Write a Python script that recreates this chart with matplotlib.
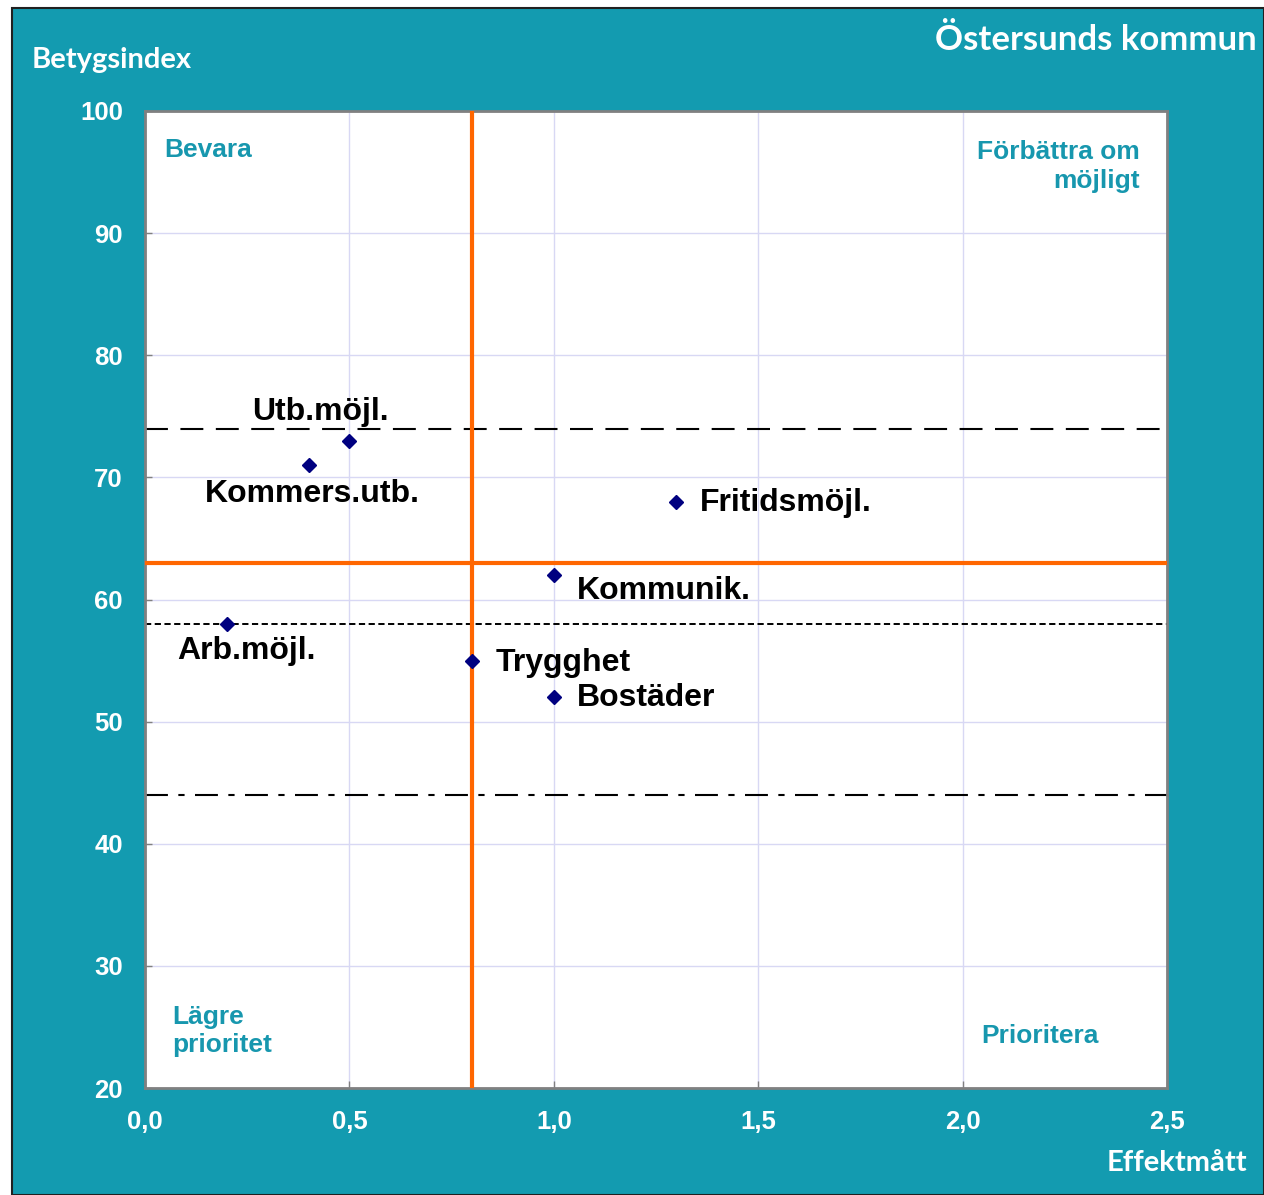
import matplotlib
matplotlib.use("Agg")
import matplotlib.pyplot as plt
from matplotlib.patches import Rectangle

# Data
labels = ['Utb.möjl.', 'Kommers.utb.', 'Fritidsmöjl.', 'Kommunik.', 'Arb.möjl.', 'Trygghet', 'Bostäder']
effekt = [0.5, 0.4, 1.3, 1.0, 0.2, 0.8, 1.0]
betyg = [73, 71, 68, 62, 58, 55, 52]
# label offsets in pixels (dx, dy) and alignment
offsets = [(-29, 29, 'center'), (4, -29, 'center'), (23, -1, 'left'), (23, -16, 'left'),
           (20, -27, 'center'), (24, -2, 'left'), (23, -1, 'left')]

x_ticks = [0.0, 0.5, 1.0, 1.5, 2.0, 2.5]
x_ticklabels = ['0,0', '0,5', '1,0', '1,5', '2,0', '2,5']
y_ticks = [20, 30, 40, 50, 60, 70, 80, 90, 100]

x_mid = 0.8
y_mid = 63
ref_long = 74
ref_short = 58
ref_dashdot = 44

teal = '#139BB0'
teal_txt = '#1797AE'
orange = '#FF6600'

W, H = 1264, 1195
fig = plt.figure(figsize=(W / 100, H / 100), dpi=100)
fig.patch.set_facecolor('white')
fig.patches.append(Rectangle((12 / W, 0), 1 - 12 / W, 1 - 8 / H, transform=fig.transFigure,
                             facecolor=teal, edgecolor='#202020', linewidth=1.5, zorder=-5))

ax = fig.add_axes([145 / W, (H - 1088) / H, 1022 / W, 977 / H])
ax.set_zorder(1)
ax.set_facecolor('white')
ax.set_xlim(0, 2.5)
ax.set_ylim(20, 100)
ax.set_xticks(x_ticks)
ax.set_xticklabels(x_ticklabels)
ax.set_yticks(y_ticks)
ax.grid(True, color='#D8D8F4', linewidth=1)
ax.set_axisbelow(True)
for s in ax.spines.values():
    s.set_color('#808080')
    s.set_linewidth(2)
ax.tick_params(direction='in', length=5, color='#808080', width=1,
               labelcolor='white', labelsize=18.5, pad=16)
for t in ax.get_xticklabels() + ax.get_yticklabels():
    t.set_fontweight('bold')
    t.set_family('Liberation Sans')

ax.axhline(ref_long, color='black', linewidth=1.5, dashes=(11, 6), zorder=2)
ax.axhline(ref_short, color='black', linewidth=1.4, dashes=(3.2, 1.8), zorder=2)
ax.axhline(ref_dashdot, color='black', linewidth=1.5, dashes=(11, 5, 3, 5), zorder=2)
ax.axvline(x_mid, color=orange, linewidth=3, zorder=3)
ax.axhline(y_mid, color=orange, linewidth=3, zorder=3)

ax.plot(effekt, betyg, linestyle='none', marker='D', markersize=7.5,
        color='#000080', zorder=5)
for lab, xv, yv, (dx, dy, ha) in zip(labels, effekt, betyg, offsets):
    ax.annotate(lab, (xv, yv), xytext=(dx, dy), textcoords='offset pixels',
                ha=ha, va='center', fontsize=23, fontweight='bold',
                family='Liberation Sans', color='black', zorder=6)

qkw = dict(transform=ax.transAxes, fontsize=19, fontweight='bold',
           family='Liberation Sans', color=teal_txt)
ax.text(0.0186, 0.960, 'Bevara', ha='left', va='center', **qkw)
ax.text(0.9736, 0.943, 'Förbättra om\nmöjligt', ha='right', va='center', linespacing=1.25, **qkw)
ax.text(0.0264, 0.0583, 'Lägre\nprioritet', ha='left', va='center', linespacing=1.25, **qkw)
ax.text(0.818, 0.0532, 'Prioritera', ha='left', va='center', **qkw)

fig.text(32 / W, 1 - 60 / H, 'Betygsindex', ha='left', va='center', color='white',
         fontsize=21, fontweight='bold', family='Lato')
fig.text(1257 / W, 1 - 40 / H, 'Östersunds kommun', ha='right', va='center', color='white',
         fontsize=25, fontweight='bold', family='Lato')
fig.text(1247 / W, 1 - 1163 / H, 'Effektmått', ha='right', va='center', color='white',
         fontsize=21, fontweight='bold', family='Lato')

fig.savefig('out.png', dpi=100, facecolor=fig.get_facecolor())
